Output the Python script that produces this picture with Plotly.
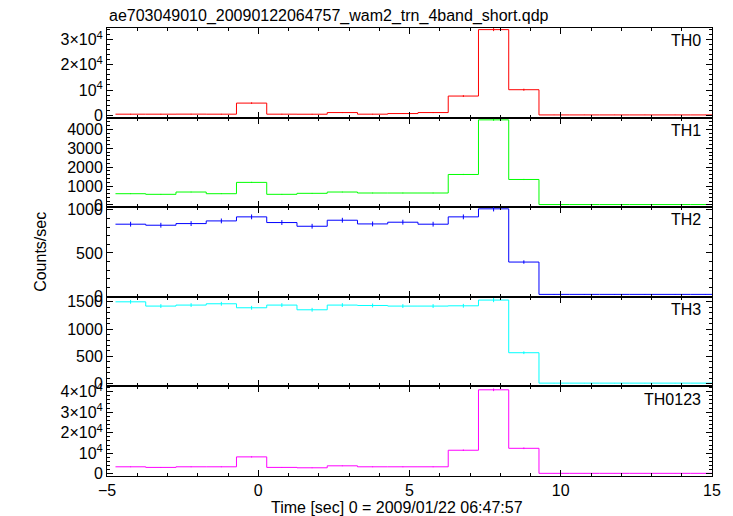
import plotly.graph_objects as go
from plotly.subplots import make_subplots

# ---- data ----
time = [-4.22, -3.22, -2.22, -1.22, -0.22, 0.78, 1.78, 2.78, 3.78, 4.78,
        5.78, 6.78, 7.78, 8.78, 9.78, 10.78, 11.78, 12.78, 13.78, 14.78]
half_width = 0.5

th0 = [400, 400, 420, 400, 4800, 400, 380, 1040, 400, 640,
       1040, 7600, 34000, 10120, 100, 100, 100, 100, 100, 100]
th1 = [595, 563, 684, 595, 1195, 563, 616, 684, 632, 632,
       632, 1615, 4510, 1350, 20, 20, 20, 20, 20, 20]
th2 = [834, 822, 841, 872, 919, 853, 810, 880, 837, 857,
       834, 919, 1012, 395, 20, 20, 20, 20, 20, 20]
th3 = [1500, 1422, 1440, 1464, 1391, 1440, 1354, 1440, 1433, 1422,
       1422, 1427, 1532, 567, 10, 10, 10, 10, 10, 10]
th0123 = [3380, 3090, 3380, 3380, 8210, 3090, 2900, 3860, 3380, 3380,
          3380, 11450, 40900, 12400, 200, 200, 200, 200, 200, 200]

err0 = [150, 150, 150, 150, 300, 150, 150, 200, 150, 150,
        200, 350, 600, 400, 50, 50, 50, 50, 50, 50]
err1 = [20, 20, 20, 20, 30, 20, 20, 20, 20, 20,
        20, 30, 50, 30, 5, 5, 5, 5, 5, 5]
err2 = [28, 28, 28, 28, 28, 28, 28, 28, 28, 28,
        28, 28, 30, 20, 3, 3, 3, 3, 3, 3]
err3 = [35, 35, 35, 35, 35, 35, 35, 35, 35, 35,
        35, 35, 38, 25, 3, 3, 3, 3, 3, 3]
err0123 = [200, 200, 200, 200, 300, 200, 200, 200, 200, 200,
           200, 350, 650, 400, 50, 50, 50, 50, 50, 50]

series = [
    ("TH0", th0, err0, "#ff0000"),
    ("TH1", th1, err1, "#00ff00"),
    ("TH2", th2, err2, "#0000ff"),
    ("TH3", th3, err3, "#00ffff"),
    ("TH0123", th0123, err0123, "#ff00ff"),
]

y_ranges = [[-960, 34640], [-120, 4630], [-8, 1031], [-50, 1592], [-1100, 42560]]
y_major = [10000, 1000, 500, 500, 10000]
y_minor = [2000, 200, 100, 100, 2000]
sup_tickvals = [[0, 10000, 20000, 30000], None, None, None, [0, 10000, 20000, 30000, 40000]]
sup_ticktext = [["0", "10<sup>4</sup>", "2×10<sup>4</sup>", "3×10<sup>4</sup>"], None, None, None,
                ["0", "10<sup>4</sup>", "2×10<sup>4</sup>", "3×10<sup>4</sup>", "4×10<sup>4</sup>"]]

title_text = "ae703049010_20090122064757_wam2_trn_4band_short.qdp"
x_title = "Time [sec] 0 = 2009/01/22 06:47:57"
y_title = "Counts/sec"

FONT = "Liberation Sans, Arial, Helvetica, sans-serif"
FS = 16

fig = make_subplots(rows=5, cols=1, shared_xaxes=True, vertical_spacing=0)

for i, (name, vals, errs, col) in enumerate(series, start=1):
    xs = [t - half_width for t in time] + [time[-1] + half_width]
    ys = list(vals) + [vals[-1]]
    fig.add_trace(go.Scatter(x=xs, y=ys, mode="lines", line=dict(color=col, width=1, shape="hv"),
                             showlegend=False, hoverinfo="skip"), row=i, col=1)
    fig.add_trace(go.Scatter(x=time, y=vals, mode="markers", marker=dict(size=0.1, color=col, opacity=0),
                             error_y=dict(type="data", array=errs, color=col, thickness=1, width=0),
                             showlegend=False), row=i, col=1)
    yax = dict(range=y_ranges[i - 1], showgrid=False, zeroline=False, showline=True, linecolor="black",
               linewidth=1, mirror="allticks", ticks="inside", ticklen=6, tickcolor="black",
               dtick=y_major[i - 1], tick0=0,
               minor=dict(dtick=y_minor[i - 1], ticks="inside", ticklen=3, tickcolor="black"),
               tickfont=dict(family=FONT, size=FS, color="black"))
    if sup_tickvals[i - 1] is not None:
        yax.update(tickmode="array", tickvals=sup_tickvals[i - 1], ticktext=sup_ticktext[i - 1])
        yax["minor"]["tickmode"] = "linear"
        yax["minor"]["tick0"] = 0
    fig.update_yaxes(row=i, col=1, **yax)
    fig.update_xaxes(row=i, col=1, range=[-5, 15], showgrid=False, zeroline=False, showline=True,
                     linecolor="black", linewidth=1, mirror="allticks", ticks="inside", ticklen=6,
                     tickcolor="black", dtick=5, tick0=0,
                     minor=dict(dtick=1, ticks="inside", ticklen=3, tickcolor="black"),
                     tickfont=dict(family=FONT, size=FS, color="black"),
                     showticklabels=(i == 5))
    fig.add_annotation(text=name, xref="x domain", yref="y domain", x=0.985, y=0.975,
                       xanchor="right", yanchor="top", showarrow=False,
                       font=dict(family=FONT, size=FS, color="black"), row=i, col=1)

fig.add_annotation(text=title_text, xref="paper", yref="paper", x=0, y=1, yshift=1,
                   xanchor="left", yanchor="bottom", showarrow=False,
                   font=dict(family=FONT, size=FS, color="black"))
fig.add_annotation(text=y_title, xref="paper", yref="paper", x=-0.111, y=0.5, textangle=-90,
                   xanchor="center", yanchor="middle", showarrow=False,
                   font=dict(family=FONT, size=FS, color="black"))
fig.add_annotation(text=x_title, xref="paper", yref="paper", x=0.48, y=0, yshift=-31,
                   xanchor="center", yanchor="middle", showarrow=False,
                   font=dict(family=FONT, size=FS, color="black"))

# page body has an 8px default margin, so the figure is offset by 8px
fig.update_layout(width=725, height=508, margin=dict(l=99, r=21, t=20, b=40),
                  paper_bgcolor="white", plot_bgcolor="white",
                  font=dict(family=FONT, size=FS, color="black"))

fig.write_html("out.html")
